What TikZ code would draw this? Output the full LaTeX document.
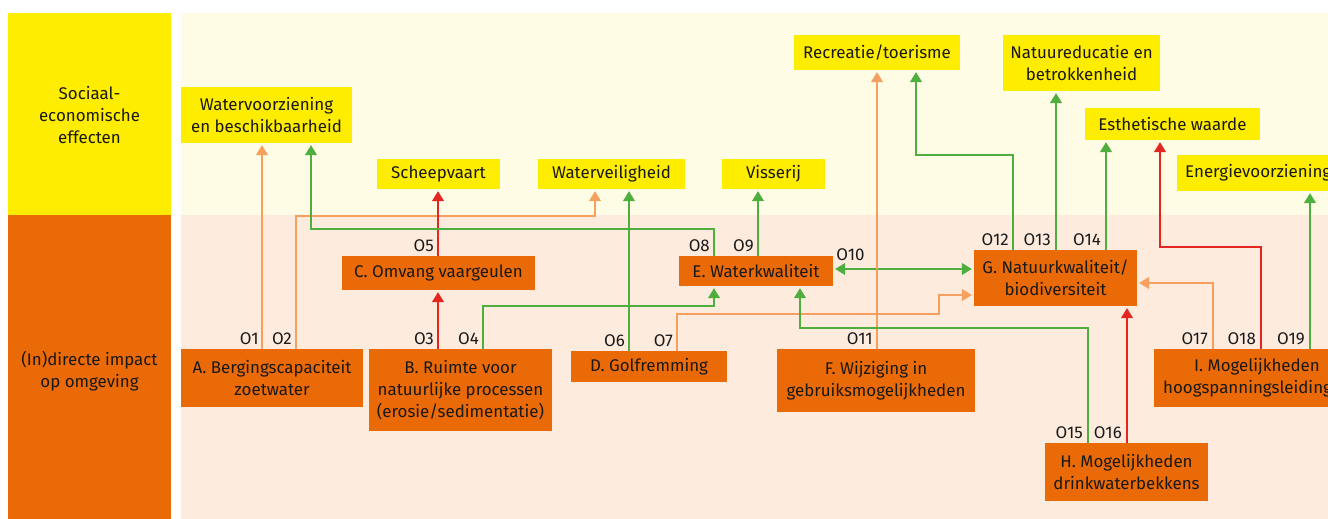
\documentclass[tikz,border=0pt]{standalone}
\usepackage{fontspec}
\setmainfont{Fira Sans}
\usetikzlibrary{arrows.meta,calc}
\definecolor{ryel}{RGB}{255,237,0}
\definecolor{rora}{RGB}{234,106,8}
\definecolor{bgy}{RGB}{255,252,230}
\definecolor{bgp}{RGB}{253,235,222}
\definecolor{lgreen}{RGB}{78,174,62}
\definecolor{lora}{RGB}{245,160,95}
\definecolor{lred}{RGB}{228,38,32}
\begin{document}
\begin{tikzpicture}[x=1pt,y=-1pt,
  every node/.style={font=\fontsize{16.9}{22}\selectfont, text=black!90},
  ybox/.style={fill=ryel, inner sep=0pt, align=center},
  obox/.style={fill=rora, inner sep=0pt, align=center},
  conn/.style={line width=1.3pt, shorten >=2pt, -{Triangle[length=10pt,width=12pt]}},
  gline/.style={conn, draw=lgreen},
  oline/.style={conn, draw=lora},
  rline/.style={conn, draw=lred},
  lab/.style={anchor=base east, inner sep=0pt}
]
\useasboundingbox (0,0) rectangle (1328,519);
\clip (0,0) rectangle (1328,519);
\fill[white] (0,0) rectangle (1328,519);
% backgrounds
\fill[ryel] (8,13) rectangle (171,215);
\fill[rora] (8,215) rectangle (171,519);
\fill[bgy] (181,13) rectangle (1328,215);
\fill[bgp] (181,215) rectangle (1328,519);
\node[align=center, inner sep=0pt] (L1) at (89.5,115) {Sociaal-\\economische\\effecten};
\node[align=center, inner sep=0pt] (L2) at (89.5,371) {(In)directe impact\\op omgeving};

% top (yellow) boxes
\node[ybox, minimum width=171, minimum height=56] (W) at (266.5,115) {Watervoorziening\\en beschikbaarheid};
\node[ybox, minimum width=123, minimum height=30] (Sch) at (438.5,174) {Scheepvaart};
\node[ybox, minimum width=147, minimum height=30] (WV) at (611.5,174) {Waterveiligheid};
\node[ybox, minimum width=103, minimum height=30] (Vis) at (773.5,174) {Visserij};
\node[ybox, minimum width=166, minimum height=35] (Rec) at (877,52.5) {Recreatie/toerisme};
\node[ybox, minimum width=157, minimum height=56] (NE) at (1081.5,63) {Natuureducatie en\\betrokkenheid};
\node[ybox, minimum width=175, minimum height=32] (Est) at (1172.5,124) {Esthetische waarde};
\node[ybox, minimum height=36, inner xsep=8pt, anchor=west] (Ene) at (1177,173) {Energievoorziening};

% bottom (orange) boxes
\node[obox, minimum width=182, minimum height=58] (A) at (272,378) {A. Bergingscapaciteit\\zoetwater};
\node[obox, minimum width=183, minimum height=82] (B) at (460.5,390) {B. Ruimte voor\\natuurlijke processen\\(erosie/sedimentatie)};
\node[obox, minimum width=193, minimum height=34] (C) at (438.5,273) {C. Omvang vaargeulen};
\node[obox, minimum width=156, minimum height=31] (D) at (649,366.5) {D. Golfremming};
\node[obox, minimum width=154, minimum height=30] (E) at (756,271) {E. Waterkwaliteit};
\node[obox, minimum width=198, minimum height=63] (F) at (876,380.5) {F. Wijziging in\\gebruiksmogelijkheden};
\node[obox, minimum width=163, minimum height=56] (G) at (1055.5,278) {G. Natuurkwaliteit/\\biodiversiteit};
\node[obox, minimum width=163, minimum height=58] (H) at (1126.5,472) {H. Mogelijkheden\\drinkwaterbekkens};
\node[obox, minimum height=58, inner xsep=9pt, anchor=west] (I) at (1154,378) {I. Mogelijkheden\\hoogspanningsleidingen};

% connector x positions
\coordinate (x1) at (262,0);
\coordinate (x2) at (296,0);
\coordinate (x3) at (438,0);
\coordinate (x4) at (483,0);
\coordinate (x6) at (629,0);
\coordinate (x7) at (677,0);
\coordinate (x8) at (714,0);
\coordinate (x9) at (758,0);
\coordinate (x11) at (877,0);
\coordinate (x12) at (1013,0);
\coordinate (x13) at (1056,0);
\coordinate (x14) at (1106,0);
\coordinate (x15) at (1088,0);
\coordinate (x16) at (1127,0);
\coordinate (x17) at (1213,0);
\coordinate (x18) at (1261,0);
\coordinate (x19) at (1310,0);

% connectors
\draw[oline] (A.north -| x1) -- (W.south -| x1);
\draw[oline] (A.north -| x2) |- (595,216) -- (WV.south -| 595,0);
\draw[rline] (B.north -| x3) -- (C.south -| x3);
\draw[gline] (B.north -| x4) |- (714,306) -- (E.south -| 714,0);
\draw[rline] (C.north -| x3) -- (Sch.south -| x3);
\draw[gline] (D.north -| x6) -- (WV.south -| x6);
\draw[oline] (D.north -| x7) |- (939,314) |- (G.west |- 0,295);
\draw[gline] (E.north -| x8) |- (311,229) -- (W.south -| 311,0);
\draw[gline] (E.north -| x9) -- (Vis.south -| x9);
\draw[gline, shorten <=2pt, {Triangle[length=10pt,width=12pt]}-{Triangle[length=10pt,width=12pt]}] (E.east |- 0,269) -- (G.west |- 0,269);
\draw[oline] (F.north -| x11) -- (Rec.south -| x11);
\draw[gline] (G.north -| x12) |- (916,155) -- (Rec.south -| 916,0);
\draw[gline] (G.north -| x13) -- (NE.south -| x13);
\draw[gline] (G.north -| x14) -- (Est.south -| x14);
\draw[gline] (H.north -| x15) |- (800,328) -- (E.south -| 800,0);
\draw[rline] (H.north -| x16) -- (G.south -| x16);
\draw[oline] (I.north -| x17) |- (G.east |- 0,283);
\draw[rline] (I.north -| x18) |- (1160,247) -- (Est.south -| 1160,0);
\draw[gline] (I.north -| x19) -- (Ene.south -| x19);

% labels
\node[lab] (o1) at ($(A.north -| x1)+(-3,-4)$) {O1};
\node[lab] (o2) at ($(A.north -| x2)+(-4,-4)$) {O2};
\node[lab] (o3) at ($(B.north -| x3)+(-4,-4)$) {O3};
\node[lab] (o4) at ($(B.north -| x4)+(-4,-4)$) {O4};
\node[lab] (o5) at ($(C.north -| x3)+(-4,-4)$) {O5};
\node[lab] (o6) at ($(D.north -| x6)+(-4,-4)$) {O6};
\node[lab] (o7) at ($(D.north -| x7)+(-4,-4)$) {O7};
\node[lab] (o8) at ($(E.north -| x8)+(-4,-4)$) {O8};
\node[lab] (o9) at ($(E.north -| x9)+(-4,-4)$) {O9};
\node[anchor=base west, inner sep=0pt] (o10) at ($(E.east)+(3,-11)$) {O10};
\node[lab] (o11) at ($(F.north -| x11)+(-4,-4)$) {O11};
\node[lab] (o12) at ($(G.north -| x12)+(-4,-4)$) {O12};
\node[lab] (o13) at ($(G.north -| x13)+(-5,-4)$) {O13};
\node[lab] (o14) at ($(G.north -| x14)+(-5,-4)$) {O14};
\node[lab] (o15) at ($(H.north -| x15)+(-5,-4)$) {O15};
\node[lab] (o16) at ($(H.north -| x16)+(-5,-4)$) {O16};
\node[lab] (o17) at ($(I.north -| x17)+(-5,-4)$) {O17};
\node[lab] (o18) at ($(I.north -| x18)+(-5,-4)$) {O18};
\node[lab] (o19) at ($(I.north -| x19)+(-5,-4)$) {O19};
\end{tikzpicture}
\end{document}
